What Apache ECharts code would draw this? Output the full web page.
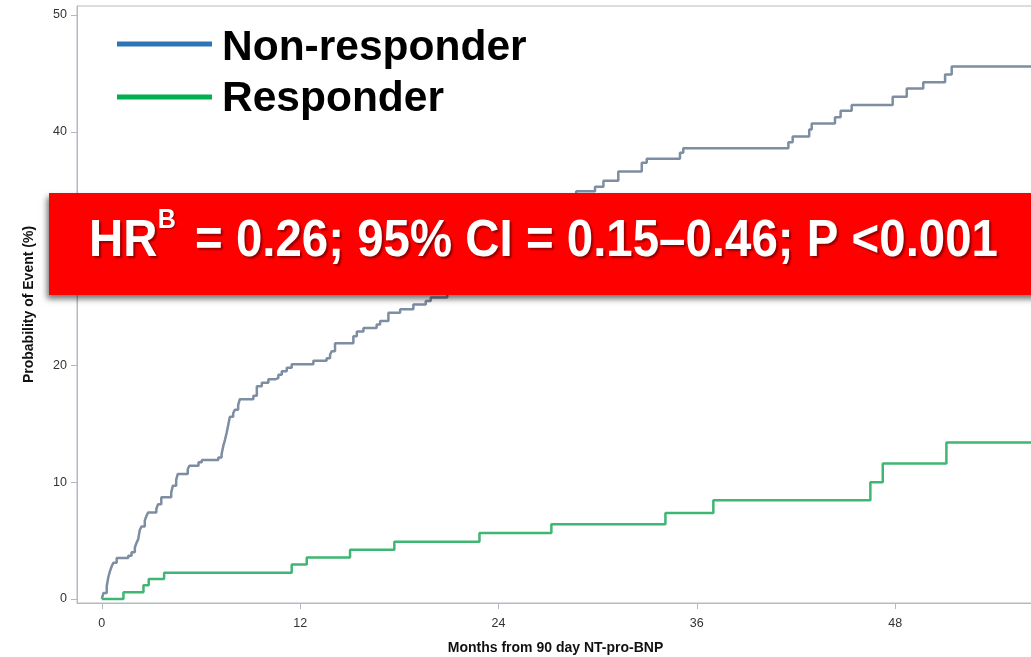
<!DOCTYPE html>
<html>
<head>
<meta charset="utf-8">
<script src="https://cdn.jsdelivr.net/npm/echarts@6/dist/echarts.min.js"></script>
<style>
  html, body { margin: 0; padding: 0; background: #ffffff; }
  #chart { width: 1031px; height: 657px; }
</style>
</head>
<body>
<div id="chart"></div>
<script>
// Cumulative probability of event (%) by months from the 90 day NT-pro-BNP measurement
const seriesNames = ['Non-responder', 'Responder'];

const nonResponderMonths = [0, 0.1, 0.3, 0.4, 0.5, 0.6, 0.7, 0.9, 1.6, 1.8, 2.0, 2.1, 2.2, 2.3, 2.4, 2.6, 2.7, 2.8,
  3.3, 3.4, 3.6, 4.2, 4.3, 4.5, 4.6, 5.2, 5.3, 5.85, 6.05, 7.05, 7.25, 7.35, 7.45, 7.55, 7.65, 7.75, 7.95, 8.05,
  8.25, 8.35, 9.17, 9.38, 9.68, 10.08, 10.48, 10.68, 10.89, 11.19, 11.49, 12.8, 13.6, 13.81, 13.91, 14.11, 15.22,
  15.43, 15.83, 16.63, 16.84, 17.34, 18.05, 18.85, 19.6, 19.9, 20.9, 21.6, 22.3, 22.9, 23.6, 24.2, 24.8, 25.5,
  26.1, 26.7, 27.2, 27.7, 28.0, 28.3, 28.7, 29.84, 30.35, 31.25, 32.67, 32.97, 34.98, 35.18, 41.54, 41.8, 42.8,
  42.95, 44.36, 44.7, 45.37, 47.85, 48.7, 49.7, 51.02, 51.42, 56.4];
const nonResponderPct = [0, 0.5, 1.1, 1.9, 2.4, 2.8, 3.1, 3.5, 3.7, 4.0, 4.4, 4.8, 5.1, 5.9, 6.2, 6.7, 7.1, 7.4,
  7.7, 8.1, 8.7, 9.1, 9.7, 10.2, 10.7, 11.1, 11.4, 11.7, 11.9, 12.1, 12.4, 13.1, 13.6, 14.2, 14.9, 15.6, 15.9, 16.2,
  16.6, 17.1, 17.4, 18.2, 18.5, 18.8, 18.9, 19.2, 19.5, 19.8, 20.1, 20.4, 20.6, 20.9, 21.2, 21.9, 22.5,
  22.9, 23.2, 23.5, 23.8, 24.5, 24.8, 25.2, 25.5, 25.8, 26.4, 27.0, 27.6, 28.1, 28.7, 29.3, 29.9, 30.5,
  31.1, 31.7, 32.3, 32.9, 33.5, 34.1, 34.9, 35.3, 35.8, 36.6, 37.35, 37.7, 38.2, 38.6, 39.1, 39.6, 40.2,
  40.7, 41.25, 41.8, 42.3, 43.0, 43.7, 44.25, 44.9, 45.6, 45.6];

const responderMonths = [0, 1.31, 2.52, 2.84, 3.77, 11.49, 12.4, 15.02, 17.7, 22.85, 27.2, 34.1, 37.0, 46.5, 47.25, 51.1, 56.4];
const responderPct = [0, 0.58, 1.18, 1.7, 2.24, 2.95, 3.55, 4.22, 4.9, 5.65, 6.4, 7.35, 8.45, 10.0, 11.6, 13.4, 13.4];

const xTicks = [0, 12, 24, 36, 48];
const yTicks = [0, 10, 20, 30, 40, 50];

const hrLead = 'HR';
const hrSup = 'B';
const hrRest = '= 0.26; 95% CI = 0.15\u20130.46; P <0.001';

function zip(xs, ys) {
  return xs.map((x, i) => [x, ys[i]]);
}

const axisGray = '#b4bac2';
const font = '"Liberation Sans", Arial, Helvetica, sans-serif';
const bannerShadow = 'rgba(60,0,0,0.55)';
const bannerScale = 0.93;

const chart = echarts.init(document.getElementById('chart'), null, { renderer: 'canvas' });

chart.setOption({
  animation: false,
  backgroundColor: '#ffffff',
  grid: {
    left: 77, top: 6, right: -3, bottom: 54,
    outerBoundsMode: 'none',
    containLabel: false,
    show: true, borderColor: axisGray, borderWidth: 1, backgroundColor: 'transparent'
  },
  xAxis: {
    type: 'value',
    min: -1.5,
    max: 56.4,
    name: 'Months from 90 day NT-pro-BNP',
    nameLocation: 'middle',
    nameGap: 38,
    nameTextStyle: { fontFamily: font, fontSize: 14, fontWeight: 'bold', color: '#111' },
    axisLine: { show: true, onZero: false, lineStyle: { color: axisGray, width: 1 } },
    axisTick: { show: true, customValues: xTicks, length: 6, lineStyle: { color: axisGray } },
    axisLabel: { customValues: xTicks, margin: 14, fontFamily: font, fontSize: 12.5, color: '#333' },
    splitLine: { show: false }
  },
  yAxis: {
    type: 'value',
    min: -0.35,
    max: 50.77,
    name: 'Probability of Event (%)',
    nameLocation: 'middle',
    nameGap: 41,
    nameTextStyle: { fontFamily: font, fontSize: 14, fontWeight: 'bold', color: '#111' },
    axisLine: { show: true, onZero: false, lineStyle: { color: axisGray, width: 1 } },
    axisTick: { show: true, customValues: yTicks, length: 6, lineStyle: { color: axisGray } },
    axisLabel: { customValues: yTicks, margin: 10, fontFamily: font, fontSize: 12.5, color: '#333' },
    splitLine: { show: false }
  },
  series: [
    {
      name: seriesNames[0],
      type: 'line',
      step: 'end',
      showSymbol: false,
      data: zip(nonResponderMonths, nonResponderPct),
      lineStyle: { color: '#7d8da2', width: 2.5 },
      itemStyle: { color: '#7d8da2' },
      z: 2
    },
    {
      name: seriesNames[1],
      type: 'line',
      step: 'end',
      showSymbol: false,
      data: zip(responderMonths, responderPct),
      lineStyle: { color: '#3fb672', width: 2.5 },
      itemStyle: { color: '#3fb672' },
      z: 3
    }
  ],
  graphic: [
    // legend
    { type: 'line', z: 50, shape: { x1: 117, y1: 44, x2: 212, y2: 44 }, style: { stroke: '#2e75b6', lineWidth: 5 } },
    { type: 'text', z: 50, x: 222, y: 48,
      style: { text: seriesNames[0], font: 'bold 42.5px ' + font, fill: '#000', verticalAlign: 'middle', align: 'left' } },
    { type: 'line', z: 50, shape: { x1: 117, y1: 97, x2: 212, y2: 97 }, style: { stroke: '#00b050', lineWidth: 5 } },
    { type: 'text', z: 50, x: 222, y: 99,
      style: { text: seriesNames[1], font: 'bold 42.5px ' + font, fill: '#000', verticalAlign: 'middle', align: 'left' } },
    // hazard ratio banner
    { type: 'rect', z: 60, shape: { x: 49, y: 193, width: 1000, height: 102 },
      style: { fill: '#ff0000', shadowBlur: 6, shadowOffsetX: -2, shadowOffsetY: 4, shadowColor: 'rgba(0,0,0,0.55)' } },
    {
      type: 'group', z: 61, x: 89, y: 242, scaleX: bannerScale, scaleY: 1,
      children: [
        { type: 'text', z: 61, x: 0, y: 0,
          style: { text: hrLead, font: 'bold 51px ' + font, fill: '#fff', verticalAlign: 'middle',
                   textShadowColor: bannerShadow, textShadowOffsetX: 2, textShadowOffsetY: 2, textShadowBlur: 2 } },
        { type: 'text', z: 61, x: 74, y: -21,
          style: { text: hrSup, font: 'bold 27px ' + font, fill: '#fff', verticalAlign: 'middle',
                   textShadowColor: bannerShadow, textShadowOffsetX: 1, textShadowOffsetY: 1, textShadowBlur: 2 } },
        { type: 'text', z: 61, x: 114, y: 0,
          style: { text: hrRest, font: 'bold 51px ' + font, fill: '#fff', verticalAlign: 'middle',
                   textShadowColor: bannerShadow, textShadowOffsetX: 2, textShadowOffsetY: 2, textShadowBlur: 2 } }
      ]
    }
  ]
});
</script>
</body>
</html>
